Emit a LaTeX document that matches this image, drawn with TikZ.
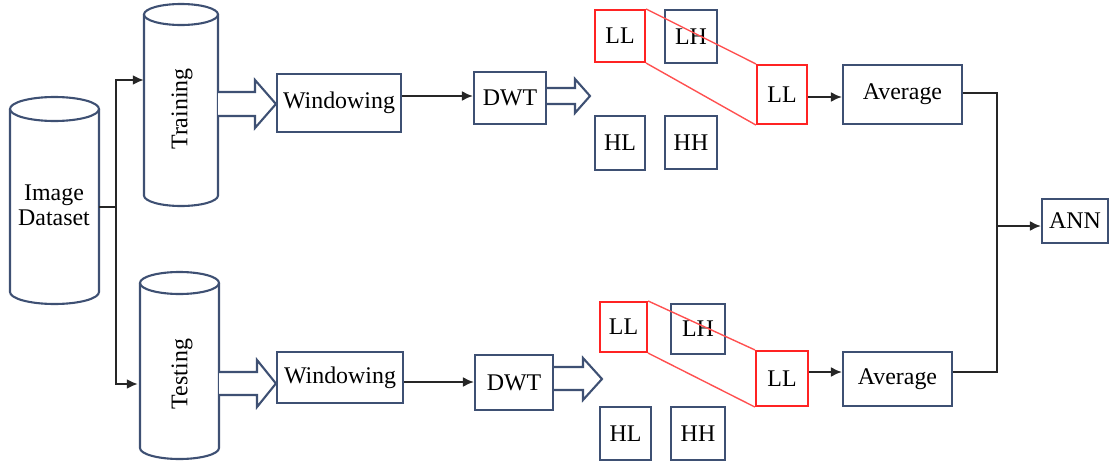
\documentclass[tikz,border=0pt]{standalone}
\usepackage{fontspec}
\setmainfont{Liberation Serif}
\usetikzlibrary{arrows.meta,calc}
\definecolor{bord}{RGB}{62,80,115}
\definecolor{redb}{RGB}{255,35,35}
\definecolor{redl}{RGB}{255,80,80}
\begin{document}
\begin{tikzpicture}[x=1pt,y=-1pt,
  txt/.style={font=\fontsize{23.9}{27}\selectfont, inner sep=0pt},
  box/.style={txt, draw=bord, line width=2.1pt, fill=white},
  rbox/.style={txt, draw=redb, line width=2.1pt},
  cyl/.style={draw=bord, line width=2.1pt},
  body/.style={inner sep=0pt},
  conn/.style={draw=black!85, line width=2pt},
  arr/.style={conn, -{Latex[length=11pt,width=10pt]}},
  blk/.style={draw=bord, line width=2.1pt, fill=white, line join=miter},
  rline/.style={draw=redl, line width=1.4pt}]
\useasboundingbox (0,0) rectangle (1109,463);

% Image Dataset cylinder
\draw[cyl] (10,109) -- (10,292) arc[start angle=180,end angle=360,x radius=44.5pt,y radius=12pt] -- (99,109);
\draw[cyl] (54.5,109) ellipse[x radius=44.5pt, y radius=12pt];
\node[body, minimum width=89pt, minimum height=183pt] (img) at (54.5,200.5) {};
\node[txt, align=center] (imgt) at (54,205) {Image\\[-2pt]Dataset};

% Training cylinder
\draw[cyl] (144,14.5) -- (144,195.5) arc[start angle=180,end angle=360,x radius=37pt,y radius=10.5pt] -- (218,14.5);
\draw[cyl] (181,14.5) ellipse[x radius=37pt, y radius=10.5pt];
\node[body, minimum width=74pt, minimum height=181pt] (trn) at (181,105) {};
\node[txt, rotate=90] (trnt) at (182,109) {Training};

% Testing cylinder
\draw[cyl] (140,283) -- (140,448) arc[start angle=180,end angle=360,x radius=39.5pt,y radius=11pt] -- (219,283);
\draw[cyl] (179.5,283) ellipse[x radius=39.5pt, y radius=11pt];
\node[body, minimum width=79pt, minimum height=165pt] (tst) at (179.5,365.5) {};
\node[txt, rotate=90] (tstt) at (182,374) {Testing};

% split connectors
\coordinate (split) at (116,207);
\draw[conn] (img.east |- split) -- (split);
\draw[arr] (split) |- (trn.west |- 0,80);
\draw[arr] (split) |- ([xshift=-2pt]tst.west |- 0,384);

% top row
\node[box, minimum width=124pt, minimum height=58pt] (win1) at (339,103) {Windowing};
\node[box, minimum width=72pt, minimum height=52pt] (dwt1) at (510,98) {DWT};
\node[box, minimum width=52pt, minimum height=53pt] (lh1) at (691,36.5) {LH};
\node[rbox, minimum width=50pt, minimum height=52pt] (ll1) at (620,36) {LL};
\node[box, minimum width=50pt, minimum height=54pt] (hl1) at (620,143) {HL};
\node[box, minimum width=52pt, minimum height=53pt] (hh1) at (691,142.5) {HH};
\node[rbox, minimum width=50pt, minimum height=59pt] (llb1) at (782,94.5) {LL};
\node[box, minimum width=119pt, minimum height=59pt] (avg1) at (902.5,94.5) {Average};

% bottom row
\node[box, minimum width=126pt, minimum height=51pt] (win2) at (340,377.5) {Windowing};
\node[box, minimum width=78pt, minimum height=55pt] (dwt2) at (514,382.5) {DWT};
\node[box, minimum width=54pt, minimum height=50pt] (lh2) at (698,329) {LH};
\node[rbox, minimum width=47pt, minimum height=50pt] (ll2) at (623.5,327) {LL};
\node[box, minimum width=51pt, minimum height=53pt] (hl2) at (625.5,433.5) {HL};
\node[box, minimum width=54pt, minimum height=53pt] (hh2) at (698,433.5) {HH};
\node[rbox, minimum width=52pt, minimum height=55pt] (llb2) at (782,378.5) {LL};
\node[box, minimum width=109pt, minimum height=54pt] (avg2) at (897.5,379) {Average};

\node[box, minimum width=66pt, minimum height=44pt] (ann) at (1075,221) {ANN};

% block arrows
\draw[blk] (trn.east |- 0,92) -- (255,92) -- (255,80) -- (win1.west |- 0,104) -- (255,128) -- (255,116) -- (trn.east |- 0,116);
\draw[blk] (tst.east |- 0,372) -- (257,372) -- (257,360) -- (win2.west |- 0,383.5) -- (257,407) -- (257,395) -- (tst.east |- 0,395);
\draw[blk] (dwt1.east |- 0,88) -- (575,88) -- (575,79) -- (590,96) -- (575,113) -- (575,104) -- (dwt1.east |- 0,104);
\draw[blk] (dwt2.east |- 0,367) -- (583,367) -- (583,358) -- (602,379) -- (583,400) -- (583,390) -- (dwt2.east |- 0,390);

% connectors
\draw[arr] (win1.east |- 0,96) -- (dwt1.west |- 0,96);
\draw[arr] (win2.east |- 0,382) -- (dwt2.west |- 0,382);
\draw[arr] (llb1.east |- 0,97) -- (avg1.west |- 0,97);
\draw[arr] (llb2.east |- 0,372) -- (avg2.west |- 0,372);

% red projection lines
\draw[rline] (ll1.north east) -- (llb1.north west);
\draw[rline] (ll1.south east) -- (llb1.south west);
\draw[rline] (ll2.north east) -- (llb2.north west);
\draw[rline] (ll2.south east) -- (llb2.south west);

% merge to ANN
\coordinate (mrg) at (997,226);
\draw[conn] (avg1.east |- 0,93) -| (mrg);
\draw[conn] (avg2.east |- 0,372) -| (mrg);
\draw[arr] (mrg) -- (ann.west |- mrg);
\end{tikzpicture}
\end{document}
